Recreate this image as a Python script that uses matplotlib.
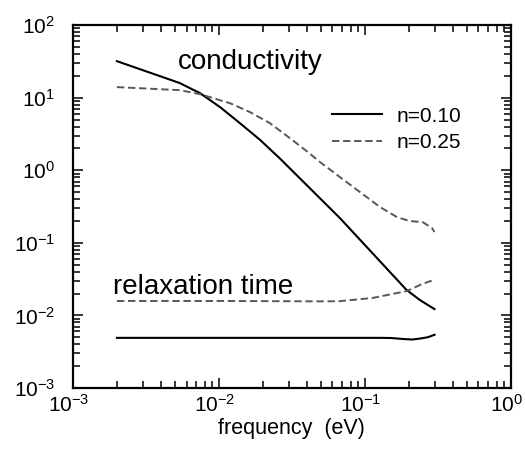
import matplotlib
matplotlib.use("Agg")
import matplotlib.pyplot as plt
from matplotlib.ticker import LogLocator, FixedLocator, FixedFormatter, NullFormatter
from matplotlib.transforms import ScaledTranslation

plt.rcParams["font.family"] = ["Liberation Sans", "DejaVu Sans"]
plt.rcParams["mathtext.fontset"] = "custom"
plt.rcParams["mathtext.rm"] = "Liberation Sans"
plt.rcParams["mathtext.it"] = "Liberation Sans:italic"
plt.rcParams["mathtext.bf"] = "Liberation Sans:bold"

# =========================
# data
# =========================
# conductivity, n=0.10 (solid)
cond_x_010 = [0.002, 0.0054, 0.0063, 0.0074, 0.0102, 0.0139, 0.0191, 0.0262, 0.0348,
              0.0675, 0.108, 0.193, 0.238, 0.30]
cond_y_010 = [31.9, 15.9, 13.6, 11.6, 7.4, 4.47, 2.63, 1.45, 0.822,
              0.219, 0.079, 0.0224, 0.0163, 0.0122]

# conductivity, n=0.25 (dashed)
cond_x_025 = [0.002, 0.0054, 0.0074, 0.0119, 0.0163, 0.0223, 0.0306, 0.0407, 0.0492,
              0.0675, 0.0925, 0.127, 0.166, 0.203, 0.249, 0.288, 0.30]
cond_y_025 = [14.0, 12.7, 11.2, 8.4, 6.34, 4.47, 2.78, 1.78, 1.30,
              0.805, 0.501, 0.311, 0.226, 0.1995, 0.193, 0.160, 0.141]

# relaxation time, n=0.10 (solid)
tau_x_010 = [0.002, 0.01, 0.05, 0.127, 0.15, 0.19, 0.212, 0.24, 0.27, 0.30]
tau_y_010 = [0.0049, 0.0049, 0.0049, 0.0049, 0.00488, 0.0047, 0.00465, 0.0048, 0.0050, 0.0054]

# relaxation time, n=0.25 (dashed)
tau_x_025 = [0.002, 0.01, 0.05, 0.0675, 0.1135, 0.195, 0.238, 0.279, 0.30]
tau_y_025 = [0.0158, 0.0158, 0.0156, 0.0157, 0.0174, 0.0217, 0.0262, 0.0296, 0.0298]

x_ticks = [1e-3, 1e-2, 1e-1, 1e0]
x_tick_labels = [r"$10^{-3}$", r"$10^{-2}$", r"$10^{-1}$", r"$10^{0}$"]
y_ticks = [1e-3, 1e-2, 1e-1, 1e0, 1e1, 1e2]
y_tick_labels = [r"$10^{-3}$", r"$10^{-2}$", r"$10^{-1}$", r"$10^{0}$", r"$10^{1}$", r"$10^{2}$"]

# =========================
# plot
# =========================
fig = plt.figure(figsize=(5.25, 4.49), dpi=100)
ax = fig.add_axes([0.139, 0.136, 0.834, 0.808])

solid_kw = dict(color="black", linewidth=1.5)
dash_kw = dict(color="#575757", linewidth=1.4, linestyle=(0, (3.8, 1.9)))

ax.plot(cond_x_010, cond_y_010, label="n=0.10", **solid_kw)
ax.plot(cond_x_025, cond_y_025, label="n=0.25", **dash_kw)
ax.plot(tau_x_010, tau_y_010, **solid_kw)
ax.plot(tau_x_025, tau_y_025, **dash_kw)

ax.set_xscale("log")
ax.set_yscale("log")
ax.set_xlim(1e-3, 1e0)
ax.set_ylim(1e-3, 1e2)

ax.xaxis.set_major_locator(FixedLocator(x_ticks))
ax.xaxis.set_major_formatter(FixedFormatter(x_tick_labels))
ax.yaxis.set_major_locator(FixedLocator(y_ticks))
ax.yaxis.set_major_formatter(FixedFormatter(y_tick_labels))
ax.xaxis.set_minor_locator(LogLocator(base=10, subs=range(2, 10)))
ax.yaxis.set_minor_locator(LogLocator(base=10, subs=range(2, 10)))
ax.xaxis.set_minor_formatter(NullFormatter())
ax.yaxis.set_minor_formatter(NullFormatter())

ax.tick_params(which="both", direction="in", top=True, right=True, width=1.1)
ax.tick_params(which="major", length=7)
ax.tick_params(which="minor", length=5)
ax.tick_params(axis="x", which="major", labelsize=15, pad=4)
ax.tick_params(axis="y", which="major", labelsize=15, pad=13)
for sp in ax.spines.values():
    sp.set_linewidth(1.6)

# nudge x tick labels a little left so 10^0 stays inside the figure
shift = ScaledTranslation(-4 / 100, 0, fig.dpi_scale_trans)
for lbl in ax.get_xticklabels():
    lbl.set_transform(lbl.get_transform() + shift)

ax.set_xlabel("frequency  (eV)", fontsize=15.5, labelpad=2)

ax.text(0.240, 0.879, "conductivity", transform=ax.transAxes, fontsize=20,
        ha="left", va="baseline")
ax.text(0.091, 0.259, "relaxation time", transform=ax.transAxes, fontsize=20,
        ha="left", va="baseline")

ax.legend(loc="upper left", bbox_to_anchor=(0.591, 0.775), frameon=False,
          fontsize=15, handlelength=2.4, handletextpad=0.7, labelspacing=0.35,
          borderpad=0, borderaxespad=0)

fig.savefig("out.png", dpi=100)
